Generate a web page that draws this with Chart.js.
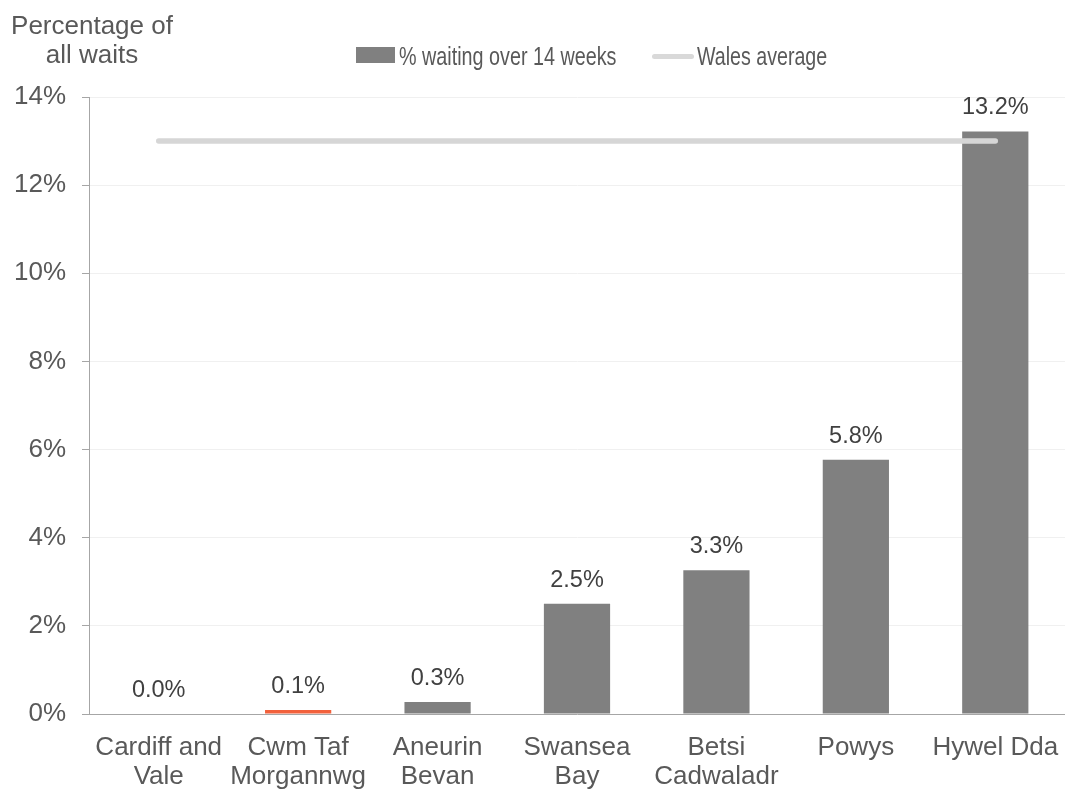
<!DOCTYPE html>
<html>
<head>
<meta charset="utf-8">
<script src="https://cdn.jsdelivr.net/npm/chart.js@4"></script>
<style>
  body { margin: 0; background: #fff; }
  #wrap { position: relative; width: 1065px; height: 790px; font-family: "Liberation Sans", Arial, sans-serif; color: #595959; }
  #wrap canvas { position: absolute; left: 0; top: 0; }
  .ttl { position: absolute; left: 0; top: 10.5px; width: 184px; text-align: center; font-size: 26px; line-height: 29px; }
  .lg-box { position: absolute; left: 356px; top: 47px; width: 39px; height: 16px; background: #808080; }
  .lg-line { position: absolute; left: 652px; top: 53.5px; width: 42px; height: 5px; border-radius: 3px; background: #d9d9d9; }
  .lg-txt { position: absolute; top: 41.5px; font-size: 26px; line-height: 29px; white-space: nowrap; transform-origin: left center; }
</style>
</head>
<body>
<div id="wrap">
  <canvas id="chart" width="1065" height="790"></canvas>
  <div class="ttl">Percentage of<br>all waits</div>
  <div class="lg-box"></div>
  <div class="lg-txt" style="left:399px; transform:scaleX(0.76)">% waiting over 14 weeks</div>
  <div class="lg-line"></div>
  <div class="lg-txt" style="left:697px; transform:scaleX(0.755)">Wales average</div>
</div>
<script>
/* ── data ─────────────────────────────────────────────── */
const boards = [
  ["Cardiff and", "Vale"],
  ["Cwm Taf", "Morgannwg"],
  ["Aneurin", "Bevan"],
  ["Swansea", "Bay"],
  ["Betsi", "Cadwaladr"],
  "Powys",
  "Hywel Dda",
];
const over14Weeks = [0.0, 0.09, 0.27, 2.5, 3.26, 5.77, 13.22];
const walesAverage = [13.0, 13.0, 13.0, 13.0, 13.0, 13.0, 13.0];
const yTicks = [0, 2, 4, 6, 8, 10, 12, 14];

const GREY = "#808080";
const HIGHLIGHT = "#f2613c";
const FONT = "'Liberation Sans', Arial, sans-serif";

// bar labels drawn above each bar
const barLabels = {
  id: "barLabels",
  afterDatasetsDraw(chart) {
    const ctx = chart.ctx;
    const meta = chart.getDatasetMeta(1);
    ctx.save();
    ctx.font = "23.5px " + FONT;
    ctx.fillStyle = "#404040";
    ctx.textAlign = "center";
    ctx.textBaseline = "alphabetic";
    meta.data.forEach((bar, i) => {
      ctx.fillText(over14Weeks[i].toFixed(1) + "%", bar.x, bar.y - 17);
    });
    ctx.restore();
  },
};

new Chart(document.getElementById("chart"), {
  data: {
    labels: boards,
    datasets: [
      {
        type: "line",
        label: "Wales average",
        data: walesAverage,
        borderColor: "#d6d6d6",
        borderWidth: 5.5,
        borderCapStyle: "round",
        pointRadius: 0,
        order: 0,
      },
      {
        type: "bar",
        label: "% waiting over 14 weeks",
        data: over14Weeks,
        backgroundColor: over14Weeks.map((v, i) => (i === 1 ? HIGHLIGHT : GREY)),
        categoryPercentage: 1,
        barPercentage: 0.475,
        order: 1,
      },
    ],
  },
  options: {
    responsive: false,
    animation: false,
    layout: { padding: { top: 97, right: 0, left: 0, bottom: 0 } },
    plugins: { legend: { display: false }, tooltip: { enabled: false } },
    scales: {
      x: {
        grid: { display: false, drawTicks: false },
        border: { display: true, color: "#a6a6a6", width: 1 },
        ticks: {
          color: "#595959",
          font: { family: FONT, size: 26, lineHeight: 1.12 },
          padding: 19,
          maxRotation: 0,
          autoSkip: false,
        },
        afterFit: (s) => {
          s.height = 76;
          s.paddingLeft = 0;
          s.paddingRight = 0;
        },
      },
      y: {
        min: 0,
        max: 14,
        afterBuildTicks: (s) => { s.ticks = yTicks.map((v) => ({ value: v })); },
        grid: { color: "#f0f0f0", tickColor: "#a6a6a6", tickLength: 7 },
        border: { display: true, color: "#a6a6a6", width: 1 },
        ticks: {
          color: "#595959",
          font: { family: FONT, size: 26 },
          padding: 16,
          callback: (v) => v + "%",
        },
        afterFit: (s) => {
          s.width = 89;
          s.paddingTop = 0;
          s.paddingBottom = 0;
        },
      },
    },
  },
  plugins: [barLabels],
});
</script>
</body>
</html>
